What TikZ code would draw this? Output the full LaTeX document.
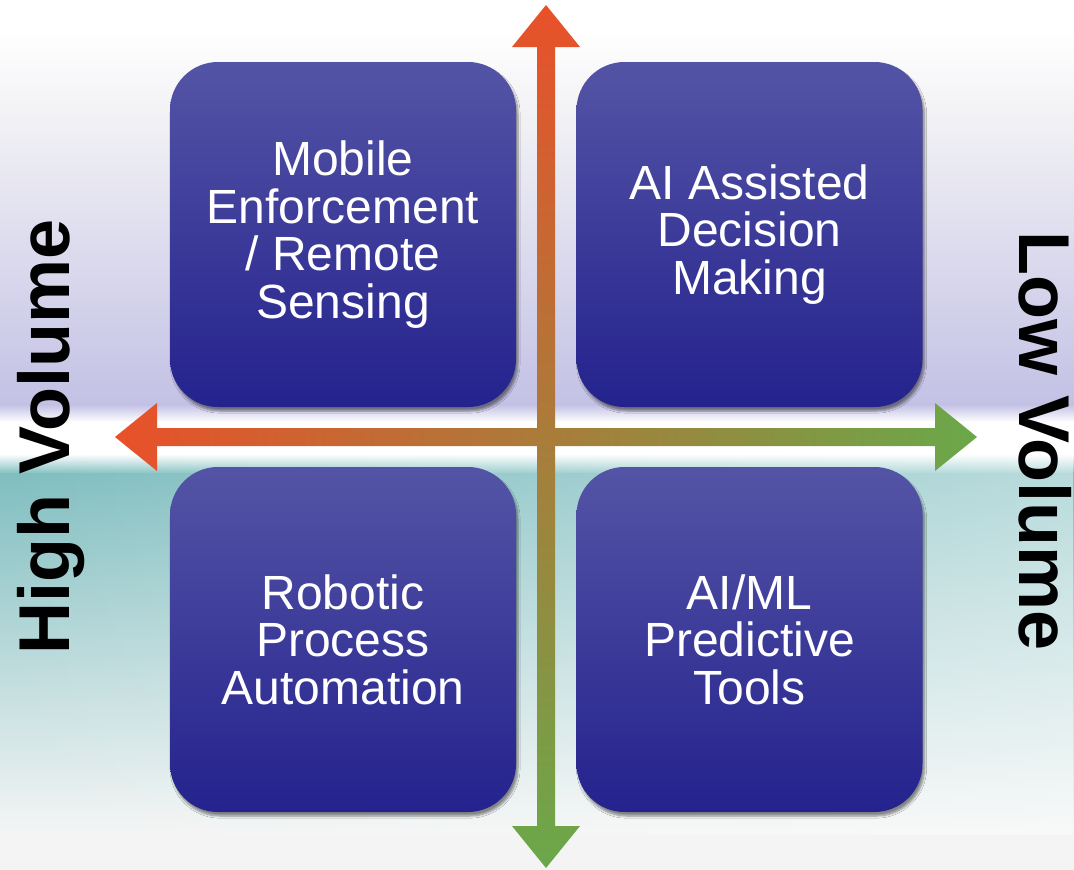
\documentclass[tikz,border=0pt]{standalone}
\usepackage{fontspec}
\setmainfont{Liberation Sans}
\usetikzlibrary{shadows.blur,fadings}
\definecolor{axorange}{HTML}{E9502A}
\definecolor{axgreen}{HTML}{6AA84A}
\definecolor{boxtop}{HTML}{5454A6}
\definecolor{boxmid}{HTML}{2E2D9C}
\definecolor{boxbot}{HTML}{24228D}
\definecolor{lav}{HTML}{C3C1E5}
\definecolor{lavlight}{HTML}{F1F1F5}
\definecolor{teal}{HTML}{80BEC0}
\definecolor{paleg}{HTML}{EEF2F2}
\definecolor{floor}{HTML}{F4F4F4}
\tikzfading[name=fadeR, left color=transparent!100, right color=transparent!0]
\tikzset{
  qbox/.style={rectangle, rounded corners=48pt, minimum width=346pt, minimum height=345pt,
    inner sep=0pt, top color=boxtop, middle color=boxmid, bottom color=boxbot,
    text=white, align=center, font=\fontsize{48}{47.5}\selectfont,
    blur shadow={shadow xshift=2pt, shadow yshift=-4pt, shadow opacity=45, shadow blur steps=6}},
  sidelabel/.style={font=\bfseries\fontsize{72}{72}\selectfont, text=black, anchor=base, inner sep=0pt}
}
\begin{document}
\begin{tikzpicture}[x=1pt,y=-1pt]
\useasboundingbox (0,0) rectangle (1074,870);
% background
\fill[white] (0,0) rectangle (1074,870);
\shade[top color=white, bottom color=lavlight] (0,30) rectangle (1074,120);
\shade[top color=lavlight, bottom color=lav] (0,119.5) rectangle (1074,405);
\shade[top color=lav, bottom color=white] (0,404.5) rectangle (1074,422);
\shade[top color=white, bottom color=teal] (0,454) rectangle (1074,474);
\shade[top color=teal, bottom color=paleg] (0,473.5) rectangle (1074,815);
\shade[top color=paleg, bottom color=floor] (0,814.5) rectangle (1074,835);
\fill[floor] (0,834.5) rectangle (1074,870);
\fill[white, path fading=fadeR, fill opacity=0.45] (0,454) rectangle (1074,835);
% boxes
\node[qbox] (tl) at (343,234.5) {Mobile\\Enforcement\\/ Remote\\Sensing};
\node[qbox] (tr) at (749.5,234.5) {AI Assisted\\Decision\\Making};
\node[qbox] (bl) at (343,639.5) {Robotic\\Process\\Automation};
\node[qbox] (br) at (749.5,639.5) {AI/ML\\Predictive\\Tools};
% horizontal axis
\shade[left color=axorange, right color=axgreen]
  (115,437) -- (157,403) -- (157,428) -- (935,428) -- (935,403) -- (977,437)
  -- (935,471) -- (935,446) -- (157,446) -- (157,471) -- cycle;
% vertical axis
\shade[top color=axorange, bottom color=axgreen]
  (546,5) -- (580,47) -- (555,47) -- (555,826) -- (580,826) -- (546,868)
  -- (512,826) -- (537,826) -- (537,47) -- (512,47) -- cycle;
% side labels
\node[sidelabel, rotate=90] (hv) at (69,437) {High Volume};
\node[sidelabel, rotate=-90] (lv) at (1019,441) {Low Volume};
\end{tikzpicture}
\end{document}
